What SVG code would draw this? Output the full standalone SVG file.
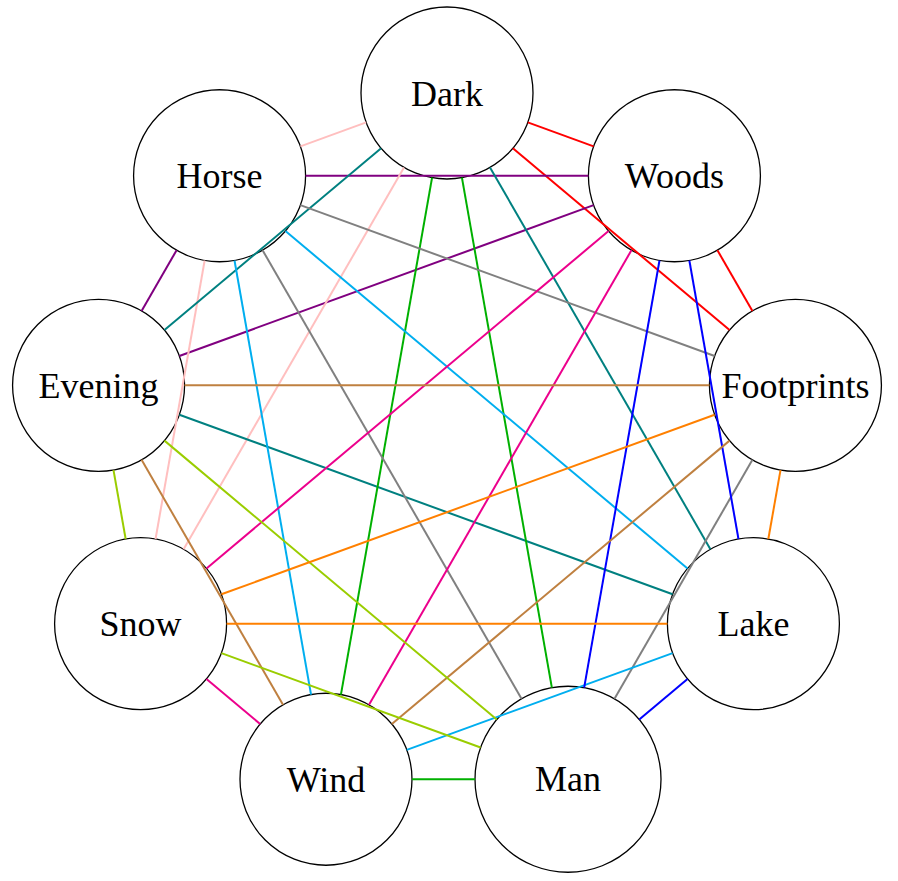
<svg xmlns="http://www.w3.org/2000/svg" width="898" height="881" viewBox="0 0 898 881">
<style>
.node circle{fill:#fff;stroke:#000;stroke-width:1.3}
.node text{font-family:"Liberation Serif","DejaVu Serif",serif;font-size:36px;text-anchor:middle;fill:#000}
#edges line{stroke-width:2;fill:none}
.red{stroke:#ff0000}.purple{stroke:#800080}.pink{stroke:#ffbfbf}.teal{stroke:#008080}
.green{stroke:#00b000}.gray{stroke:#808080}.cyan{stroke:#00aeef}.magenta{stroke:#ec008c}
.blue{stroke:#0000ff}.brown{stroke:#bf8040}.lime{stroke:#9acd00}.orange{stroke:#ff8000}
</style>
<rect width="898" height="881" fill="#fff"/>
<g id="node-dark" class="node"><circle cx="447" cy="93" r="86"/><text x="447" y="105.5">Dark</text></g>
<g id="node-horse" class="node"><circle cx="219.58" cy="175.77" r="86"/><text x="219.58" y="188.3">Horse</text></g>
<g id="node-woods" class="node"><circle cx="674.42" cy="175.77" r="86"/><text x="674.42" y="188.3">Woods</text></g>
<g id="node-evening" class="node"><circle cx="98.57" cy="385.36" r="86"/><text x="98.57" y="397.9">Evening</text></g>
<g id="node-footprints" class="node"><circle cx="795.43" cy="385.36" r="86"/><text x="795.43" y="397.9">Footprints</text></g>
<g id="node-snow" class="node"><circle cx="140.6" cy="623.7" r="86"/><text x="140.6" y="636.2">Snow</text></g>
<g id="node-lake" class="node"><circle cx="753.4" cy="623.7" r="86"/><text x="753.4" y="636.2">Lake</text></g>
<g id="node-wind" class="node"><circle cx="325.99" cy="779.26" r="86"/><text x="325.99" y="791.8">Wind</text></g>
<g id="node-man" class="node"><circle cx="568.01" cy="779.26" r="93"/><text x="568.01" y="791.3">Man</text></g>
<g id="edges">
<line class="red" x1="527.82" y1="122.41" x2="593.6" y2="146.36"/>
<line class="red" x1="512.89" y1="148.28" x2="729.54" y2="330.08"/>
<line class="red" x1="717.42" y1="250.25" x2="752.43" y2="310.88"/>
<line class="purple" x1="305.58" y1="175.77" x2="588.42" y2="175.77"/>
<line class="purple" x1="176.58" y1="250.25" x2="141.57" y2="310.88"/>
<line class="purple" x1="179.38" y1="355.95" x2="593.61" y2="205.18"/>
<line class="pink" x1="366.18" y1="122.41" x2="300.4" y2="146.36"/>
<line class="pink" x1="404" y1="167.48" x2="183.6" y2="549.22"/>
<line class="pink" x1="204.65" y1="260.46" x2="155.53" y2="539.01"/>
<line class="teal" x1="381.11" y1="148.28" x2="164.46" y2="330.08"/>
<line class="teal" x1="490" y1="167.48" x2="710.4" y2="549.22"/>
<line class="teal" x1="179.38" y1="414.77" x2="672.59" y2="594.29"/>
<line class="green" x1="432.07" y1="177.69" x2="340.92" y2="694.57"/>
<line class="green" x1="461.93" y1="177.69" x2="551.86" y2="687.67"/>
<line class="green" x1="411.99" y1="779.26" x2="475.01" y2="779.26"/>
<line class="gray" x1="300.39" y1="205.18" x2="714.62" y2="355.95"/>
<line class="gray" x1="262.58" y1="250.25" x2="521.51" y2="698.72"/>
<line class="gray" x1="752.43" y1="459.84" x2="614.51" y2="698.72"/>
<line class="cyan" x1="234.51" y1="260.46" x2="311.06" y2="694.57"/>
<line class="cyan" x1="285.46" y1="231.05" x2="687.52" y2="568.42"/>
<line class="cyan" x1="406.8" y1="749.85" x2="672.59" y2="653.11"/>
<line class="magenta" x1="608.54" y1="231.05" x2="206.48" y2="568.42"/>
<line class="magenta" x1="631.42" y1="250.25" x2="369" y2="704.78"/>
<line class="magenta" x1="206.48" y1="678.98" x2="260.11" y2="723.98"/>
<line class="blue" x1="689.35" y1="260.46" x2="738.47" y2="539.01"/>
<line class="blue" x1="659.49" y1="260.46" x2="584.16" y2="687.67"/>
<line class="blue" x1="687.52" y1="678.98" x2="639.25" y2="719.48"/>
<line class="brown" x1="184.57" y1="385.36" x2="709.43" y2="385.36"/>
<line class="brown" x1="141.57" y1="459.84" x2="283" y2="704.78"/>
<line class="brown" x1="729.55" y1="440.64" x2="391.87" y2="723.98"/>
<line class="lime" x1="113.5" y1="470.05" x2="125.67" y2="539.01"/>
<line class="lime" x1="164.45" y1="440.64" x2="496.77" y2="719.48"/>
<line class="lime" x1="221.41" y1="653.11" x2="480.62" y2="747.45"/>
<line class="orange" x1="714.62" y1="414.77" x2="221.41" y2="594.29"/>
<line class="orange" x1="780.5" y1="470.05" x2="768.33" y2="539.01"/>
<line class="orange" x1="226.6" y1="623.7" x2="667.4" y2="623.7"/>
</g>
</svg>
